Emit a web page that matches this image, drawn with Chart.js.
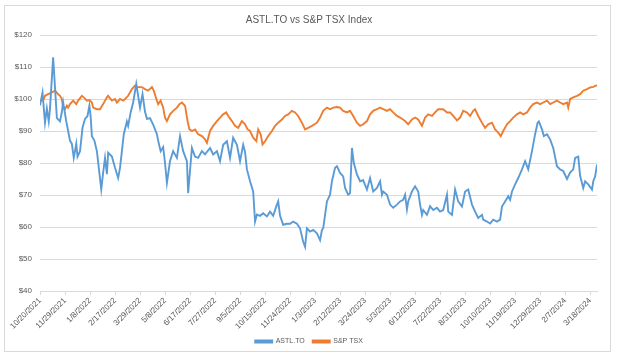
<!DOCTYPE html>
<html>
<head>
<meta charset="utf-8">
<script src="https://cdn.jsdelivr.net/npm/chart.js@4.4.1/dist/chart.umd.min.js"></script>
<style>
  html, body { margin: 0; padding: 0; background: #ffffff; }
  #wrap { width: 617px; height: 355px; position: relative; }
</style>
</head>
<body>
<div id="wrap"><canvas id="c" width="617" height="355"></canvas></div>
<script>
// Day offsets from 10/20/2021
const tickLabels = ["10/20/2021","11/29/2021","1/8/2022","2/17/2022","3/29/2022","5/8/2022","6/17/2022","7/27/2022","9/5/2022","10/15/2022","11/24/2022","1/3/2023","2/12/2023","3/24/2023","5/3/2023","6/12/2023","7/22/2023","8/31/2023","10/10/2023","11/19/2023","12/29/2023","2/7/2024","3/18/2024"];

const astlDays = [
  0,4,8,11,14,16,21,24,27,32,
  35,37,42,45,48,51,54,58,60,64,
  68,72,76,79,81,83,87,91,98,101,
  104,107,109,115,120,125,128,131,134,139,
  141,145,149,154,157,160,164,168,171,176,
  181,187,189,193,197,200,203,208,213,219,
  224,229,235,237,243,248,253,259,264,272,
  277,283,288,293,299,304,309,315,320,325,
  328,331,336,341,344,347,352,357,363,368,
  373,379,381,384,389,395,400,405,411,416,
  421,424,427,432,437,443,448,451,453,456,
  459,464,467,472,475,480,485,488,493,496,
  499,502,507,512,517,523,528,533,539,544,
  547,549,555,560,565,571,576,581,584,587,
  589,595,600,605,608,611,613,619,624,629,
  635,640,645,651,653,659,664,669,675,680,
  685,691,696,701,707,709,715,720,725,731,
  736,739,744,749,752,755,760,765,771,776,
  781,787,792,796,798,803,806,811,816,821,
  827,832,837,843,848,853,856,861,864,869,
  872,877,883,885,888,891
];
const astlValues = [
  98,102,92.6,97,93,97,113,103.6,94,93,
  96,99,93,90,87,86,81.6,86,82,83.7,
  91,93.8,94.7,97.9,94.6,88.4,87,83.7,71.8,77,
  81.6,76.5,83.2,82,78.5,75.3,78.5,83.7,89,93,
  91.6,95.8,98.9,104.7,101,97.3,101.5,96,93.8,94,
  92,89,87,83.7,85,80,73.8,80.6,83.7,81.6,
  88.4,83.7,80.6,70.6,84.7,82,81.6,83.7,82.7,84.7,
  82.7,83.7,80.6,85.7,86.8,81.6,87.9,85.7,80.6,85.7,
  83.5,78,74.3,71.1,61.7,63.9,63.5,64.3,63.3,64.8,
  63.5,67,68,63.5,60.7,61,61,61.7,61,59.6,
  55.4,53.8,59.6,58.6,59.1,58,55.9,59,59.6,63.8,
  68,70.1,74.3,78.5,79,76.9,75.8,72.2,70.1,70.6,
  84.7,80,76.4,74.3,74.6,71.7,75.3,71.1,72.2,74.3,
  70.1,71.1,70.1,67,66,67,68,68.5,70.1,65.5,
  68,71.1,72.7,71.1,67,63.8,65.3,63.8,66.5,65.3,
  66,64.8,65.3,70.1,64.8,63.8,71.7,68,66.4,71.1,
  71.7,67,64.8,62.8,63.8,62.3,61.7,61.1,62.3,61.7,
  62.3,66.4,68,69.6,68.5,71.1,73.3,75.3,78,80.6,
  78,83.7,89,92.6,93,90.5,88.4,89,87.4,84.7,
  79,78,77.5,75,77,78,81.6,82,76,72.2,
  74.3,73.3,71.7,74.3,75.8,79.5
];

const tsxDays = [
  0,3,5,8,13,19,24,29,32,35,
  37,40,43,45,48,53,58,61,67,70,
  75,79,83,85,91,96,101,107,109,115,
  120,123,128,133,136,141,147,152,157,163,
  168,173,179,182,187,189,193,197,200,203,
  208,213,219,223,227,232,236,239,243,248,
  253,259,264,267,272,277,283,288,293,298,
  301,307,312,317,323,328,332,336,341,346,
  349,353,356,360,365,371,376,381,387,392,
  397,403,408,413,419,424,429,435,443,448,
  453,459,464,469,475,480,485,491,496,501,
  507,512,517,523,528,533,539,544,549,555,
  560,565,571,576,584,589,595,600,605,611,
  616,621,627,632,637,645,651,656,661,667,
  672,677,683,688,693,696,701,707,712,717,
  723,728,733,737,741,747,752,757,763,768,
  773,779,784,789,795,800,805,811,816,821,
  827,832,837,843,845,848,853,859,864,869,
  875,880,885,891
];
const tsxValues = [
  98.9,100,99.5,101,101.5,102.1,102.6,101.5,101,100,
  97.3,96.8,97.9,97.3,98.4,99.5,98.4,99.5,101,100.5,
  99.5,99.7,98.9,97.3,96.8,96.8,98.4,100.5,101,99.5,
  100,98.9,100,99.5,100,101,103.1,104.2,103.7,103.7,
  103.1,102.6,103.7,102.6,99.5,98.4,99.5,97.3,94.2,93.1,
  95.2,96.3,97.3,98.4,98.9,97.9,93.1,90.5,90,90.5,
  89,88.4,87.4,86.3,90,91.6,93.1,94.2,95.2,95.8,
  94.7,93.1,91.6,91,93.1,92.1,90.5,90,87.9,86.8,
  90.5,89,85.8,86.8,88.4,90,91.6,92.6,93.6,94.7,
  95.2,96.3,95.8,94.7,92.6,90.5,91,91.6,92.6,94.2,
  96.3,97.3,96.8,97.3,97.5,97.3,96.3,95.8,96.3,94.7,
  92.6,91.6,92.1,93.1,95.2,96.3,96.8,97.3,96.8,96.3,
  96.8,95.8,94.7,94.2,93.1,92.1,93.6,94.2,93.6,91.6,
  94.2,95.2,94.7,95.8,96.8,96.8,95.8,95.8,94.7,93.3,
  94.2,96.3,95.8,94.7,96.3,96.8,94.7,92.6,91,92.1,
  92.6,90.5,89.5,88.4,90,92.1,93.1,94.2,95.2,95.8,
  95.2,95.8,97.3,98.4,98.9,98.4,98.9,99.5,98.4,98.9,
  99.5,98.9,98.4,98.9,97.3,100,100.5,101,101.5,102.6,
  103.1,103.6,103.8,104.3
];

const yTicks = [40,50,60,70,80,90,100,110,120];

function pts(days, vals) { return days.map((d, i) => ({ x: d, y: vals[i] })); }

const framePlugin = {
  id: 'frame',
  afterLayout(chart) {
    // centre title and legend on the whole picture, as in the reference
    const shift = 8.5;
    [chart.titleBlock, chart.legend].forEach(b => { if (b) { b.left += shift; b.right += shift; } });
  },
  beforeDraw(chart) {
    const ctx = chart.ctx;
    ctx.save();
    ctx.fillStyle = '#ffffff';
    ctx.fillRect(0, 0, chart.width, chart.height);
    ctx.strokeStyle = '#d9d9d9';
    ctx.lineWidth = 1;
    ctx.strokeRect(4.5, 5.5, 606, 346);
    ctx.restore();
  }
};

const FONT = "'Liberation Sans', Arial, sans-serif";
const GREY = '#595959';

new Chart(document.getElementById('c'), {
  type: 'line',
  data: {
    datasets: [
      { label: 'ASTL.TO', data: pts(astlDays, astlValues), borderColor: '#5b9bd5', backgroundColor: '#5b9bd5', borderWidth: 1.9, pointRadius: 0, tension: 0 },
      { label: 'S&P TSX', data: pts(tsxDays, tsxValues), borderColor: '#ed7d31', backgroundColor: '#ed7d31', borderWidth: 1.9, pointRadius: 0, tension: 0 }
    ]
  },
  options: {
    responsive: false,
    devicePixelRatio: 1,
    animation: false,
    layout: { padding: { left: 4, right: 20, top: 6, bottom: 0 } },
    plugins: {
      title: { display: true, text: 'ASTL.TO vs S&P TSX Index', color: GREY, font: { family: FONT, size: 10, weight: 'normal' }, padding: { top: 8, bottom: 9 } },
      legend: { position: 'bottom', labels: { color: GREY, font: { family: FONT, size: 7 }, boxWidth: 17, boxHeight: 2, padding: 8 } },
      tooltip: { enabled: false }
    },
    scales: {
      x: {
        type: 'linear', min: 0, max: 891,
        afterBuildTicks(scale) { scale.ticks = tickLabels.map((_, i) => ({ value: i * 40 })); },
        afterFit(scale) { scale.height = 39; },
        ticks: { callback: (v) => tickLabels[Math.round(v / 40)], minRotation: 45, maxRotation: 45, autoSkip: false, color: GREY, font: { family: FONT, size: 8 }, padding: 1 },
        grid: { drawOnChartArea: false, drawTicks: true, tickLength: 4, color: '#d9d9d9' },
        border: { display: true, color: '#d9d9d9' }
      },
      y: {
        min: 40, max: 120,
        afterBuildTicks(scale) { scale.ticks = yTicks.map(v => ({ value: v })); },
        afterFit(scale) { scale.width = 36; },
        ticks: { callback: (v) => '$' + v, color: GREY, font: { family: FONT, size: 8 }, padding: 8 },
        grid: { color: '#d9d9d9', drawTicks: false },
        border: { display: false }
      }
    }
  },
  plugins: [framePlugin]
});
</script>
</body>
</html>
